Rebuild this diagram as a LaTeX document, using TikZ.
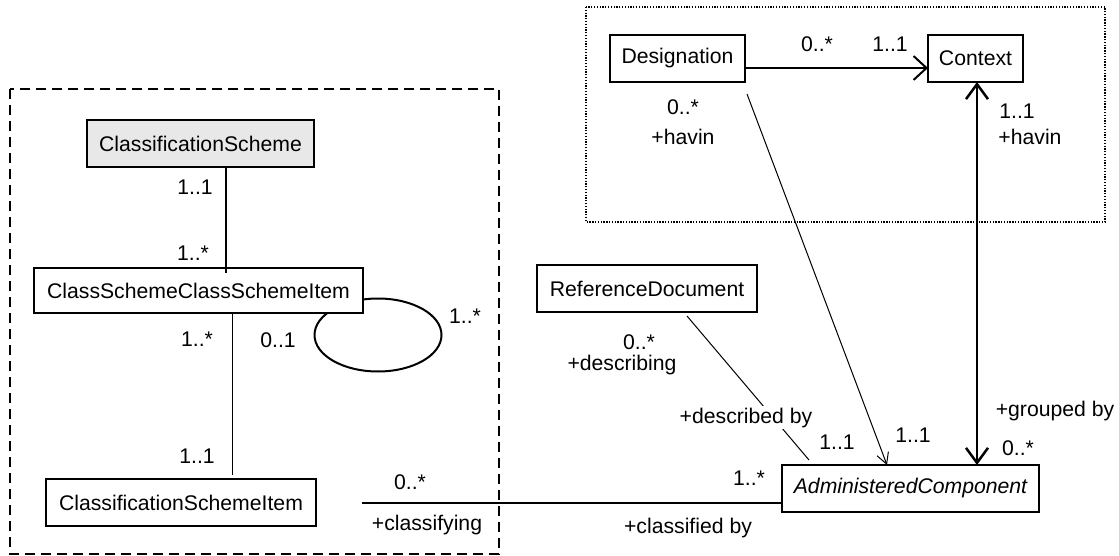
\documentclass[tikz,border=0pt]{standalone}
\usepackage{fontspec}
\setmainfont{Liberation Sans}
\usetikzlibrary{arrows.meta,calc}
\pgfdeclarelayer{background}
\pgfsetlayers{background,main}
\definecolor{schemegray}{RGB}{232,232,232}
\begin{document}
\begin{tikzpicture}[x=1pt,y=-1pt,
  font=\fontsize{21.2}{25}\selectfont,
  cls/.style={draw, line width=1.9pt, fill=white, inner sep=0pt, outer sep=0pt, minimum height=47pt},
  lbl/.style={anchor=base, inner sep=0pt, outer sep=0pt},
  gaplbl/.style={anchor=base, fill=white, inner sep=2pt},
  heavy/.style={line width=2pt},
  heavier/.style={line width=2.5pt},
  fine/.style={line width=1pt},
  navarrow/.style={-{Straight Barb[length=13pt,width=24pt]}},
  bothbarb/.style={{Straight Barb[length=15pt,width=22pt]}-{Straight Barb[length=15pt,width=22pt]}},
  thinbarb/.style={-{Straight Barb[length=11pt,width=12pt]}},
  groupframe/.style={line width=1.8pt, dash pattern=on 10pt off 6pt},
  pkgframe/.style={line width=1.3pt, dash pattern=on 1.3pt off 1.5pt}]

\useasboundingbox (0,0) rectangle (1119,556);

% package frames
\draw[groupframe] (10,89) rectangle (499,554);
\draw[pkgframe] (586,7) rectangle (1105,222);

% classes
\node[cls, fill=schemegray, minimum width=227pt] (cs)  at (200.5,143.5) {ClassificationScheme};
\node[cls, minimum width=329pt, minimum height=45pt] (csc) at (198.5,290.5) {ClassSchemeClassSchemeItem};
\node[cls, minimum width=270pt] (csi) at (181,502.5) {ClassificationSchemeItem};
\node[cls, minimum width=135pt] (des) at (677.5,58.5) {Designation};
\node[cls, minimum width=95pt]  (ctx) at (975.5,58.5) {Context};
\node[cls, minimum width=220pt] (ref) at (647,288.5) {ReferenceDocument};
\node[cls, minimum width=257pt] (ac)  at (910.5,488.5) {\itshape AdministeredComponent};

% self association, partly hidden behind its class box
\begin{pgfonlayer}{background}
\draw[heavy] ($(csc.south east)+(15,22)$) ellipse [x radius=63.5pt, y radius=36.5pt];
\end{pgfonlayer}

% associations
\draw[heavy] ($(cs.south)+(25.5,0)$) -- ($(csc.north)+(27.5,5)$);
\draw[fine] ($(csc.south)+(33.5,0)$) -- ($(csi.north)+(51,-4)$);
\draw[heavy] ($(csi.east)+(46,0.5)$) coordinate (cl) -- (cl -| ac.west);
\draw[fine] ($(ref.south)+(40,4)$) -- ($(ac.north west)+(27,-5)$);
\draw[fine, thinbarb] ($(des.south east)+(2,12)$) -- ($(ac.north)+(-23.5,0)$);
\draw[heavy, navarrow] ($(des.east)+(0,9.5)$) -- ($(ctx.west)+(0,9.5)$);
\draw[heavier, bothbarb] ($(ctx.south)+(1.5,0)$) -- ($(ac.north)+(66.5,0)$);

% multiplicities and role names
\node[lbl] (m1)  at (195,195) {1..1};
\node[lbl] (m2)  at (193,260) {1..*};
\node[lbl] (m3)  at (197,346) {1..*};
\node[lbl] (m4)  at (197,463) {1..1};
\node[lbl] (m5)  at (278,347) {0..1};
\node[lbl] (m6)  at (465,323) {1..*};
\node[lbl] (m7)  at (410,489) {0..*};
\node[lbl] (r1)  at (427,530) {+classifying};
\node[lbl] (r2)  at (688,533) {+classified by};
\node[lbl] (m8)  at (749,485) {1..*};
\node[gaplbl] (r3) at (746,423) {+described by};
\node[lbl] (m9)  at (837,449) {1..1};
\node[lbl] (m10) at (913,442) {1..1};
\node[lbl] (m11) at (1018,455) {0..*};
\node[lbl] (r4)  at (1055,416) {+grouped by};
\node[lbl] (m12) at (639,349) {0..*};
\node[lbl] (r5)  at (622,370) {+describing};
\node[lbl] (m13) at (817,52) {0..*};
\node[lbl] (m14) at (890,52) {1..1};
\node[lbl] (m15) at (683,115) {0..*};
\node[lbl] (r6)  at (683,145) {+havin};
\node[lbl] (m16) at (1017,119) {1..1};
\node[lbl] (r7)  at (1030,145) {+havin};
\end{tikzpicture}
\end{document}
